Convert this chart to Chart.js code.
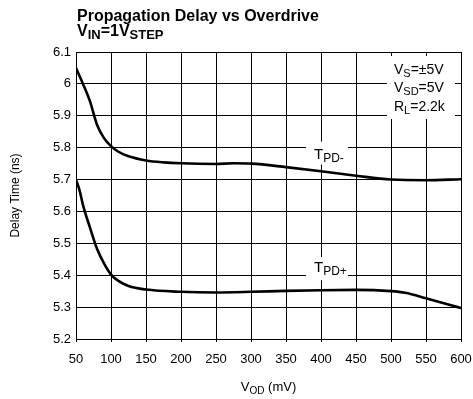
<!DOCTYPE html>
<html>
<head>
<meta charset="utf-8">
<script src="https://cdn.jsdelivr.net/npm/chart.js@4"></script>
<style>
  body { margin: 0; background: #fff; }
  #wrap { width: 473px; height: 399px; }
</style>
</head>
<body>
<div id="wrap"><canvas id="delayChart" width="473" height="399"></canvas></div>
<script>
// values
const tpdMinusX = [50, 60, 70, 80, 90, 100, 110, 125, 150, 175, 200, 250, 275, 300, 350, 400, 450, 500, 550, 600];
const tpdMinusY = [6.05, 6.00, 5.945, 5.872, 5.83, 5.805, 5.788, 5.773, 5.76, 5.754, 5.751, 5.749, 5.751, 5.750, 5.739, 5.726, 5.712, 5.700, 5.698, 5.701];
const tpdPlusX = [50, 55, 60, 70, 80, 90, 100, 110, 125, 150, 200, 250, 300, 350, 400, 450, 500, 520, 550, 600];
const tpdPlusY = [5.70, 5.667, 5.62, 5.549, 5.483, 5.437, 5.402, 5.383, 5.366, 5.355, 5.348, 5.346, 5.348, 5.351, 5.353, 5.354, 5.35, 5.345, 5.328, 5.297];
const xTicks = [50, 100, 150, 200, 250, 300, 350, 400, 450, 500, 550, 600];
const yTicks = [5.2, 5.3, 5.4, 5.5, 5.6, 5.7, 5.8, 5.9, 6.0, 6.1];

const FONT = 'Arial, "Liberation Sans", sans-serif';

// draw a run of text pieces, some of them as subscripts
function drawRich(ctx, parts, x, y, size, bold, align) {
  const w = bold ? 'bold ' : '';
  const subSize = Math.round(size * 0.8);
  let total = 0;
  parts.forEach(p => {
    ctx.font = w + (p[1] ? subSize : size) + 'px ' + FONT;
    total += ctx.measureText(p[0]).width;
  });
  let cx = x;
  if (align === 'center') cx = x - total / 2;
  if (align === 'right') cx = x - total;
  ctx.textAlign = 'left';
  ctx.textBaseline = 'alphabetic';
  parts.forEach(p => {
    ctx.font = w + (p[1] ? subSize : size) + 'px ' + FONT;
    ctx.fillText(p[0], cx, p[1] ? y + size * 0.2 : y);
    cx += ctx.measureText(p[0]).width;
  });
  return total;
}

const textPlugin = {
  id: 'texts',
  afterDraw(chart) {
    const ctx = chart.ctx;
    const area = chart.chartArea;
    const xs = chart.scales.x, ys = chart.scales.y;
    ctx.save();
    ctx.fillStyle = '#000';

    // title
    ctx.font = 'bold 16px ' + FONT;
    ctx.textAlign = 'left';
    ctx.fillText('Propagation Delay vs Overdrive', 77, 21);
    drawRich(ctx, [['V', 0], ['IN', 1], ['=1V', 0], ['STEP', 1]], 77, 36, 16, true, 'left');

    // axis titles
    ctx.save();
    ctx.translate(19, (area.top + area.bottom) / 2);
    ctx.rotate(-Math.PI / 2);
    ctx.font = '12px ' + FONT;
    ctx.textAlign = 'center';
    ctx.fillText('Delay Time (ns)', 0, 0);
    ctx.restore();
    drawRich(ctx, [['V', 0], ['OD', 1], [' (mV)', 0]], (area.left + area.right) / 2, 391, 13, false, 'center');

    // test conditions box
    ctx.fillStyle = '#fff';
    ctx.fillRect(387, 56, 68, 63);
    ctx.fillStyle = '#000';
    drawRich(ctx, [['V', 0], ['S', 1], ['=\u00b15V', 0]], 394, 74, 14, false, 'left');
    drawRich(ctx, [['V', 0], ['SD', 1], ['=5V', 0]], 394, 92, 14, false, 'left');
    drawRich(ctx, [['R', 0], ['L', 1], ['=2.2k', 0]], 394, 111, 14, false, 'left');

    // curve labels
    const lx = xs.getPixelForValue(390);
    [[5.8, 'PD-', 11, -6], [5.4, 'PD+', -3, -18]].forEach(l => {
      const gy = ys.getPixelForValue(l[0]);
      ctx.fillStyle = '#fff';
      ctx.fillRect(lx - 8, gy + l[3], 42, 23);
      ctx.fillStyle = '#000';
      drawRich(ctx, [['T', 0], [l[1], 1]], lx, gy + l[2], 15, false, 'left');
    });
    ctx.restore();
  }
};

new Chart(document.getElementById('delayChart'), {
  type: 'line',
  data: {
    datasets: [
      {
        label: 'TPD-',
        data: tpdMinusX.map((x, i) => ({ x: x, y: tpdMinusY[i] })),
        borderColor: '#000',
        borderWidth: 2.6,
        pointRadius: 0,
        cubicInterpolationMode: 'monotone'
      },
      {
        label: 'TPD+',
        data: tpdPlusX.map((x, i) => ({ x: x, y: tpdPlusY[i] })),
        borderColor: '#000',
        borderWidth: 2.6,
        pointRadius: 0,
        cubicInterpolationMode: 'monotone'
      }
    ]
  },
  options: {
    responsive: false,
    animation: false,
    layout: { padding: { top: 52, right: 12, left: 0, bottom: 0 } },
    plugins: {
      legend: { display: false },
      tooltip: { enabled: false }
    },
    scales: {
      x: {
        type: 'linear',
        min: 50,
        max: 600,
        afterBuildTicks: s => { s.ticks = xTicks.map(v => ({ value: v })); },
        afterFit: s => { s.height = 60; s.paddingLeft = 0; s.paddingRight = 0; },
        grid: { color: '#000', lineWidth: 1, tickLength: 3 },
        border: { color: '#000', width: 1 },
        ticks: { color: '#000', font: { size: 13, family: FONT }, padding: 10, maxRotation: 0 }
      },
      y: {
        min: 5.2,
        max: 6.1,
        afterBuildTicks: s => { s.ticks = yTicks.map(v => ({ value: v })); },
        afterFit: s => { s.width = 76; s.paddingTop = 0; s.paddingBottom = 0; },
        grid: { color: '#000', lineWidth: 1, drawTicks: false },
        border: { color: '#000', width: 1 },
        ticks: {
          color: '#000',
          font: { size: 13, family: FONT },
          padding: 5,
          callback: v => String(+v.toFixed(1))
        }
      }
    }
  },
  plugins: [textPlugin]
});
</script>
</body>
</html>
